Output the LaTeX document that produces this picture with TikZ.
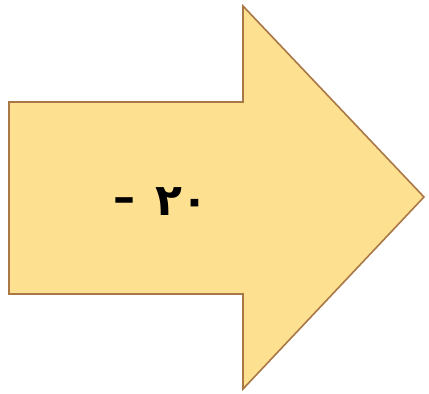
\documentclass[tikz,border=0pt]{standalone}
\usepackage{fontspec}
\newfontfamily\arabicfont[Script=Arabic]{DejaVu Sans}
\definecolor{arrowfill}{RGB}{254,224,145}
\definecolor{arrowline}{RGB}{170,120,70}
\tikzset{bigarrow/.style={fill=arrowfill,draw=arrowline,line width=1.6pt,line join=miter},
  label/.style={font=\arabicfont\bfseries\fontsize{44}{50}\selectfont,text=black,inner sep=0pt}}
\begin{document}
\begin{tikzpicture}[x=1pt,y=-1pt]
\useasboundingbox (0,0) rectangle (429,394);
\draw[bigarrow] (9,102) -- (243,102) -- (243,6) -- (424,197) -- (243,389) -- (243,294) -- (9,294) -- cycle;
\node[label] (m) at (124,205) {–};
\node[label] (t) at (182,202) {٢٠};
\end{tikzpicture}
\end{document}
